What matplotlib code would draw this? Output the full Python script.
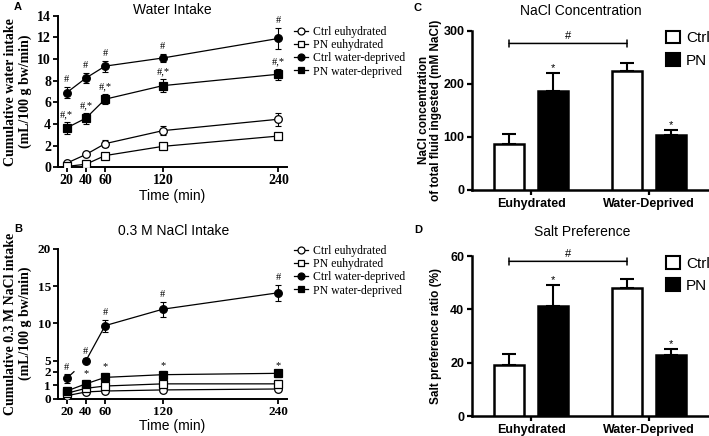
import numpy as np
import matplotlib
matplotlib.use("Agg")
import matplotlib.pyplot as plt
from matplotlib.lines import Line2D
from matplotlib.patches import Patch

# ---------------- data ----------------
time_min = [20, 40, 60, 120, 240]
series_names = ["Ctrl euhydrated", "PN euhydrated", "Ctrl water-deprived", "PN water-deprived"]

water_ctrl_euh = [0.4, 1.2, 2.2, 3.4, 4.45]
water_ctrl_euh_err = [0.12, 0.15, 0.3, 0.4, 0.6]
water_pn_euh = [0.1, 0.3, 1.1, 1.95, 2.9]
water_pn_euh_err = [0.05, 0.1, 0.15, 0.25, 0.3]
water_ctrl_wd = [6.9, 8.25, 9.35, 10.1, 11.9]
water_ctrl_wd_err = [0.5, 0.5, 0.5, 0.4, 0.95]
water_pn_wd = [3.65, 4.55, 6.3, 7.55, 8.6]
water_pn_wd_err = [0.55, 0.5, 0.45, 0.6, 0.5]
water_ctrl_wd_marks = ["#", "#", "#", "#", "#"]
water_pn_wd_marks = ["#,*", "#,*", "#,*", "#,*", "#,*"]

nacl_ctrl_euh = [0.22, 0.5, 0.57, 0.65, 0.72]
nacl_ctrl_euh_err = [0.1, 0.12, 0.15, 0.15, 0.15]
nacl_pn_euh = [0.4, 0.77, 0.94, 1.1, 1.1]
nacl_pn_euh_err = [0.2, 0.25, 0.3, 0.3, 0.3]
nacl_ctrl_wd = [1.5, 5.0, 9.7, 11.9, 14.1]
nacl_ctrl_wd_err = [0.3, 0.3, 0.8, 1.0, 1.1]
nacl_pn_wd = [0.57, 1.1, 1.58, 1.78, 1.88]
nacl_pn_wd_err = [0.3, 0.3, 0.35, 0.3, 0.3]
nacl_ctrl_wd_marks = ["#", "#", "#", "#", "#"]
nacl_pn_wd_marks = ["*", "*", "*", "*", "*"]

groups = ["Euhydrated", "Water-Deprived"]
bar_names = ["Ctrl", "PN"]
conc_ctrl = [87, 224]
conc_ctrl_err = [19, 16]
conc_pn = [186, 103]
conc_pn_err = [34, 10]
pref_ctrl = [19.3, 47.9]
pref_ctrl_err = [4.2, 3.5]
pref_pn = [41.4, 22.9]
pref_pn_err = [7.6, 2.4]
conc_bracket = 276
pref_bracket = 58

# ---------------- figure ----------------
W, H = 709, 436
fig = plt.figure(figsize=(W / 100, H / 100), dpi=100)
SERIF = ["Liberation Serif", "DejaVu Serif"]
SANS = ["Liberation Sans", "DejaVu Sans"]


def fx(px):
    return px / W


def fy(py):
    return 1 - py / H


def box(x0, y0, x1, y1):
    return [fx(x0), fy(y1), (x1 - x0) / W, (y1 - y0) / H]


axA = fig.add_axes(box(58, 15.7, 287, 167.5))
axB = fig.add_axes(box(58, 248.7, 287, 398.7))
axC = fig.add_axes(box(472, 30.7, 709, 190))
axD = fig.add_axes(box(472, 256, 709, 416.3))

styles = [
    dict(marker="o", mfc="white"),
    dict(marker="s", mfc="white"),
    dict(marker="o", mfc="black"),
    dict(marker="s", mfc="black"),
]


def style_line_axes(ax, tsize=10):
    for s in ["top", "right"]:
        ax.spines[s].set_visible(False)
    for s in ["left", "bottom"]:
        ax.spines[s].set_linewidth(1.4)
    ax.tick_params(direction="out", length=3.5, width=1.3, pad=1.5)
    for lab in ax.get_xticklabels() + ax.get_yticklabels():
        lab.set_fontfamily(SERIF)
        lab.set_fontweight("bold")
        lab.set_fontsize(tsize)


def draw_series(ax, vals, errs, st, line_from=0):
    ax.errorbar(time_min, vals, yerr=errs, fmt="none", ecolor="black",
                elinewidth=0.8, capsize=2.5, capthick=0.8, zorder=2)
    ax.plot(time_min[line_from:], vals[line_from:], "-", color="black", lw=0.9, zorder=3)
    ax.plot(time_min, vals, linestyle="none", marker=st["marker"], mfc=st["mfc"],
            mec="black", mew=0.9, ms=5.5, zorder=4)


def marks(ax, vals, errs, labels, dy=2):
    for t, v, e, s in zip(time_min, vals, errs, labels):
        ax.annotate(s, (t, v + e), xytext=(0, dy), textcoords="offset points",
                    ha="center", va="bottom", fontsize=7.5, family=SERIF)


# ---- Panel A ----
axA.set_xlim(11, 249)
axA.set_ylim(0, 14)
A_vals = [(water_ctrl_euh, water_ctrl_euh_err), (water_pn_euh, water_pn_euh_err),
          (water_ctrl_wd, water_ctrl_wd_err), (water_pn_wd, water_pn_wd_err)]
for (v, e), st in zip(A_vals, styles):
    draw_series(axA, v, e, st)
marks(axA, water_ctrl_wd, water_ctrl_wd_err, water_ctrl_wd_marks)
marks(axA, water_pn_wd, water_pn_wd_err, water_pn_wd_marks)
axA.set_xticks(time_min)
axA.set_yticks(np.arange(0, 15, 2))
style_line_axes(axA)
axA.set_ylabel("Cumulative water intake\n(mL/100 g bw/min)", family=SERIF,
               fontweight="bold", fontsize=10, linespacing=1.15)
axA.yaxis.set_label_coords(-0.115, 0.5)
axA.set_xlabel("Time (min)", family=SANS, fontsize=10, labelpad=1)

# ---- Panel B (broken axis) ----
bp_data = [-10, 0, 2, 5, 20, 40]
bp_disp = [-135, 0, 27, 38, 150.05, 299.45]


def fwd(y):
    return np.interp(y, bp_data, bp_disp)


def inv(v):
    return np.interp(v, bp_disp, bp_data)


axB.set_yscale("function", functions=(fwd, inv))
axB.set_xlim(11, 249)
axB.set_ylim(0, 20)
B_vals = [(nacl_ctrl_euh, nacl_ctrl_euh_err), (nacl_pn_euh, nacl_pn_euh_err),
          (nacl_ctrl_wd, nacl_ctrl_wd_err), (nacl_pn_wd, nacl_pn_wd_err)]
for i, ((v, e), st) in enumerate(zip(B_vals, styles)):
    draw_series(axB, v, e, st, line_from=1 if i == 2 else 0)
# short stub of the broken segment between 20 and 40 min
p0 = axB.transData.transform((time_min[0], nacl_ctrl_wd[0]))
p1 = axB.transData.transform((time_min[1], nacl_ctrl_wd[1]))
pe = p0 + 0.38 * (p1 - p0)
d0 = axB.transData.inverted().transform(p0)
de = axB.transData.inverted().transform(pe)
axB.plot([d0[0], de[0]], [d0[1], de[1]], "-", color="black", lw=0.9, zorder=3)
marks(axB, nacl_ctrl_wd, nacl_ctrl_wd_err, nacl_ctrl_wd_marks)
marks(axB, nacl_pn_wd, nacl_pn_wd_err, nacl_pn_wd_marks, dy=1)
axB.set_xticks(time_min)
axB.set_yticks([0, 1, 2, 5, 10, 15, 20])
axB.set_yticklabels(["0", "1", "2", "5", "10", "15", "20"])
style_line_axes(axB, tsize=9.5)
axB.set_ylabel("Cumulative 0.3 M NaCl intake\n(mL/100 g bw/min)", family=SERIF,
               fontweight="bold", fontsize=10, linespacing=1.15)
axB.yaxis.set_label_coords(-0.115, 0.5)
axB.set_xlabel("Time (min)", family=SANS, fontsize=10, labelpad=1)

# legends for A and B
leg_handles = [Line2D([], [], color="black", lw=0.9, marker=st["marker"], mfc=st["mfc"],
                      mec="black", mew=0.9, ms=5) for st in styles]
for ytop in (26, 245):
    fig.legend(leg_handles, series_names, loc="upper left",
               bbox_to_anchor=(fx(294), fy(ytop)), frameon=False,
               prop=dict(family=SERIF, size=8.5), handlelength=1.2,
               handletextpad=0.4, labelspacing=0.1, borderpad=0, borderaxespad=0)

# ---- Panels C & D ----
bw = 0.254
off = 0.186
xg = np.arange(len(groups))


def bar_panel(ax, ctrl, ctrl_err, pn, pn_err, ylim, yticks, bracket, ylabel):
    ax.bar(xg - off, ctrl, width=bw, color="white", edgecolor="black", linewidth=1.8, zorder=3)
    ax.bar(xg + off, pn, width=bw, color="black", edgecolor="black", linewidth=1.8, zorder=3)
    ax.errorbar(xg - off, ctrl, yerr=[np.zeros(len(ctrl)), ctrl_err], fmt="none",
                ecolor="black", elinewidth=1.5, capsize=5, capthick=1.5, zorder=2)
    ax.errorbar(xg + off, pn, yerr=[np.zeros(len(pn)), pn_err], fmt="none",
                ecolor="black", elinewidth=1.5, capsize=5, capthick=1.5, zorder=2)
    for x, v, e in zip(xg + off, pn, pn_err):
        ax.annotate("*", (x, v + e), xytext=(0, 0), textcoords="offset points",
                    ha="center", va="bottom", fontsize=8, family=SANS)
    ax.annotate("", xy=(xg[0] - off, bracket), xytext=(xg[1] - off, bracket),
                arrowprops=dict(arrowstyle="|-|, widthA=0.25, widthB=0.25", lw=1.1,
                                color="black", shrinkA=0, shrinkB=0))
    ax.annotate("#", ((xg[0] + xg[1]) / 2 - off, bracket), xytext=(0, 2),
                textcoords="offset points", ha="center", va="bottom", fontsize=8, family=SANS)
    ax.set_xlim(-0.5, 1.508)
    ax.set_ylim(*ylim)
    ax.set_yticks(yticks)
    ax.set_xticks(xg)
    ax.set_xticklabels(groups)
    for s in ["top", "right"]:
        ax.spines[s].set_visible(False)
    for s in ["left", "bottom"]:
        ax.spines[s].set_linewidth(1.8)
    ax.tick_params(direction="out", length=3.5, width=1.6, pad=2)
    for lab in ax.get_xticklabels():
        lab.set_fontfamily(SANS)
        lab.set_fontweight("bold")
        lab.set_fontsize(9)
    for lab in ax.get_yticklabels():
        lab.set_fontfamily(SANS)
        lab.set_fontweight("bold")
        lab.set_fontsize(9)
    ax.set_ylabel(ylabel, family=SANS, fontweight="bold", fontsize=8.5, linespacing=1.05)
    ax.yaxis.set_label_coords(-0.125, 0.5)
    handles = [Patch(facecolor="white", edgecolor="black", linewidth=1.5),
               Patch(facecolor="black", edgecolor="black", linewidth=1.5)]
    ax.legend(handles, bar_names, loc="upper left", bbox_to_anchor=(0.82, 1.0),
              frameon=False, prop=dict(family=SANS, size=11), handlelength=0.9,
              handleheight=0.9, handletextpad=0.4, labelspacing=0.5, borderpad=0,
              borderaxespad=0)


bar_panel(axC, conc_ctrl, conc_ctrl_err, conc_pn, conc_pn_err, (0, 300), [0, 100, 200, 300],
          conc_bracket, "NaCl concentration\nof total fluid ingested (mM NaCl)")
bar_panel(axD, pref_ctrl, pref_ctrl_err, pref_pn, pref_pn_err, (0, 60), [0, 20, 40, 60],
          pref_bracket, "Salt preference ratio (%)")

# titles and panel letters
fig.text(fx(172), fy(10), "Water Intake", ha="center", va="center", family=SANS, fontsize=10)
fig.text(fx(174), fy(231), "0.3 M NaCl Intake", ha="center", va="center", family=SANS, fontsize=10)
fig.text(fx(581), fy(11), "NaCl Concentration", ha="center", va="center", family=SANS, fontsize=10)
fig.text(fx(582), fy(232), "Salt Preference", ha="center", va="center", family=SANS, fontsize=10)
for letter, x, y in [("A", 18, 7), ("B", 18, 229), ("C", 418, 8), ("D", 418, 230)]:
    fig.text(fx(x), fy(y), letter, ha="center", va="center", family=SANS,
             fontweight="bold", fontsize=8)

fig.savefig("out.png", dpi=100)
